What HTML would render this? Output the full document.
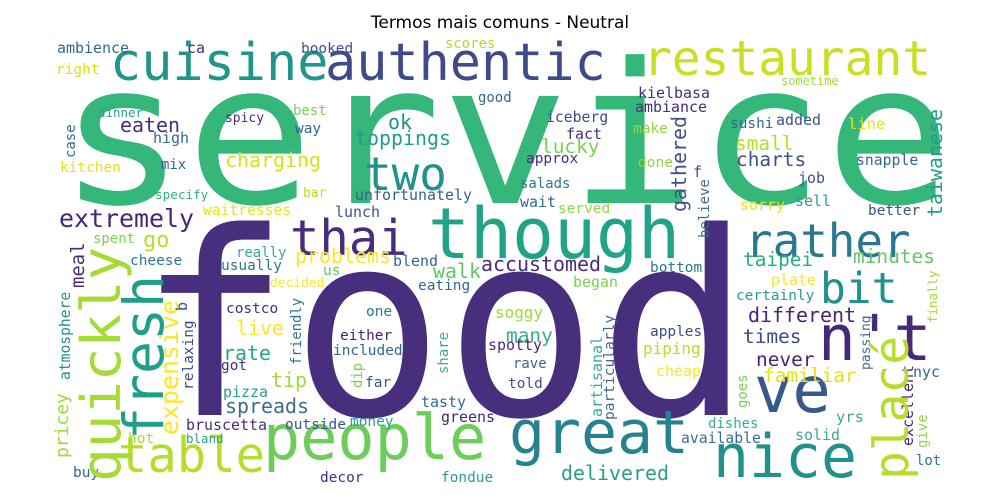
<!DOCTYPE html>
<html><head><meta charset="utf-8"><style>
html,body{margin:0;padding:0;background:#fff;}
svg{display:block;}
text.w{font-family:"DejaVu Sans Mono","Liberation Mono",monospace;}
</style></head><body>
<svg id="cloud" width="1000" height="500" viewBox="0 0 1000 500" xmlns="http://www.w3.org/2000/svg">
<text x="500" y="28" text-anchor="middle" font-family="DejaVu Sans, Liberation Sans, sans-serif" font-size="17" fill="#000">Termos mais comuns - Neutral</text>
<g id="words"></g>
</svg>
<script>
// term, x, baseline y, font size, color, rotated, [width-size]
const terms = [
["service",58,203,196,"#35b779",0,213],
["food",137,415,256,"#472f7d",0],
["though",428,258,70,"#20a386",0],
["thai",290,255,49,"#472d7b",0],
["cuisine",110,80,52,"#1f968b",0],
["authentic",325,80,52,"#3e4a89",0],
["restaurant",643,75,48,"#c8e020",0],
["rather",745,257,46,"#2a788e",0],
["two",364,190,46,"#21918c",0],
["people",263,459,62,"#6ccd5a",0],
["great",509,453,60,"#26828e",0],
["nice",713,477,60,"#21918c",0],
["ve",754,412,64,"#38598c",0],
["n't",818,360,63,"#482878",0],
["bit",820,303,43,"#21918c",0],
["table",118,472,49,"#b5de2b",0],
["extremely",59,227,25,"#482475",0],
["ambience",57,53,15,"#31688e",0],
["ca",187,53,15,"#482878",0],
["booked",301,53,14.5,"#3b528b",0],
["scores",445,48,14,"#addc30",0],
["right",56,74,14.5,"#d8e219",0],
["dinner",98,117,12.5,"#2a9d8f",0],
["best",293,115,14,"#7ad151",0],
["spicy",225,122,13,"#472d7b",0],
["good",478,102,14,"#31688e",0],
["eaten",120,132,20,"#472d7b",0],
["ok",388,129,20,"#21918c",0],
["high",153,143,15,"#31688e",0],
["way",295,133,14.5,"#31688e",0],
["toppings",355,145,20,"#1f9e89",0],
["charging",225,167,20,"#d2e21b",0],
["kitchen",60,172,14.5,"#e5e419",0],
["mix",161,169,14,"#31688e",0],
["specify",155,199,12.7,"#2fb47c",0],
["bar",303,197,13,"#b5de2b",0],
["unfortunately",355,200,15,"#355f8d",0],
["waitresses",203,215,14.7,"#e5e419",0],
["lunch",335,217,15,"#3b528b",0],
["go",143,247,22,"#b5de2b",0],
["spent",93,243,14,"#7ad151",0],
["sometime",781,85,12,"#a0da39",0],
["kielbasa",638,98,15,"#472d7b",0],
["ambiance",635,112,15,"#472d7b",0],
["iceberg",546,122,14.8,"#3e4a89",0],
["make",633,133,14.5,"#8fd744",0],
["fact",566,139,15,"#472d7b",0],
["lucky",541,153,19.5,"#7ad151",0],
["sushi",730,128,14.5,"#31688e",0],
["added",776,125,15,"#3b528b",0],
["line",848,129,15.5,"#e5e419",0],
["small",735,150,19.5,"#b5de2b",0],
["charts",736,166,19.5,"#3b528b",0],
["approx",526,163,14.5,"#472d7b",0],
["done",638,167,14.6,"#8fd744",0],
["snapple",856,165,14.8,"#31688e",0],
["f",693,177,15,"#3b528b",0],
["salads",520,188,14,"#2a788e",0],
["job",798,183,15,"#3b528b",0],
["wait",520,207,15,"#31688e",0],
["served",558,213,14.5,"#8fd744",0],
["sell",795,206,15,"#2a9d8f",0],
["sorry",740,210,15,"#e5e419",0],
["better",868,215,14.5,"#3b528b",0],
["really",236,257,14,"#3aab8e",0],
["cheese",130,265,14.5,"#2a788e",0],
["usually",221,270,14.5,"#2a788e",0],
["problems",295,263,20,"#fde725",0],
["blend",393,266,15,"#31688e",0],
["us",323,275,14.5,"#5ec962",0],
["decided",270,287,13,"#fde725",0],
["walk",433,278,20,"#5ec962",0],
["accustomed",481,271,20,"#472d7b",0],
["eating",418,290,14.5,"#31688e",0],
["costco",226,313,14.5,"#472d7b",0],
["one",366,316,14.5,"#2a788e",0],
["live",236,335,20,"#fde725",0],
["either",340,340,14.5,"#482475",0],
["included",333,355,14.5,"#31688e",0],
["rate",223,360,20,"#22a884",0],
["got",221,370,14.5,"#472d7b",0],
["far",365,387,14.5,"#3b528b",0],
["tip",271,387,20,"#a0da39",0],
["pizza",223,397,15,"#2a9d8f",0],
["tasty",421,407,15,"#31688e",0],
["spreads",225,413,20,"#3e6b8a",0],
["outside",285,429,14.5,"#3b528b",0],
["money",350,426,14.5,"#2a9d8f",0],
["greens",441,422,15,"#482475",0],
["bruscetta",186,430,15,"#472d7b",0],
["bland",186,443,12.5,"#2a9d8f",0],
["hot",128,443,14.5,"#a0da39",0],
["buy",73,477,14.5,"#31688e",0],
["decor",320,482,14.5,"#472d7b",0],
["fondue",441,482,14.5,"#2a9d8f",0],
["bottom",650,272,14.5,"#2a788e",0],
["began",573,287,15,"#7ad151",0],
["taipei",743,266,19.5,"#29af7f",0],
["minutes",853,263,19.5,"#5ec962",0],
["plate",771,285,15,"#fde725",0],
["certainly",736,300,14.5,"#2a9d8f",0],
["different",748,322,20,"#482475",0],
["soggy",495,318,16,"#a0da39",0],
["many",506,342,19.5,"#3aab8e",0],
["spotty",488,350,15,"#482878",0],
["apples",650,336,14.5,"#3e4a89",0],
["times",743,343,19.5,"#3e4a89",0],
["piping",643,354,16,"#b5de2b",0],
["rave",513,368,14,"#31688e",0],
["never",756,366,19.5,"#482475",0],
["cheap",656,376,15,"#fde725",0],
["familiar",763,382,19.5,"#e5e419",0],
["told",508,388,14.5,"#3b528b",0],
["nyc",913,377,15,"#31688e",0],
["yrs",836,422,15.5,"#3aab8e",0],
["dishes",708,428,14,"#3aab8e",0],
["available",681,443,14.8,"#3e6b8a",0],
["solid",795,440,15,"#3aab8e",0],
["lot",916,465,14,"#2a788e",0],
["delivered",561,480,20,"#2a9d8f",0],
// rotated: x = baseline x, y = start (bottom)
["quickly",120,482,54,"#a5db36",1,56],
["fresh",163,440,55,"#1f9e89",1],
["meal",84,288,19,"#472d7b",1],
["case",75,158,14,"#31688e",1],
["atmosphere",70,380,14.7,"#21918c",1],
["pricey",68,458,18,"#a0da39",1],
["expensive",178,435,25,"#fde725",1],
["b",187,311,15,"#3e4a89",1],
["relaxing",193,390,14.5,"#3e4a89",1],
["friendly",301,365,14,"#2a788e",1],
["share",448,374,14,"#3aab8e",1],
["dip",362,388,14,"#7ad151",1],
["gathered",686,212,20,"#3b528b",1],
["taiwanese",942,217,20,"#1f9e89",1],
["believe",709,238,14,"#3e6b8a",1],
["passing",870,370,13,"#3e6b8a",1],
["finally",937,323,12.5,"#a0da39",1],
["artisanal",602,417,15,"#3aab8e",1],
["particularly",614,420,14.6,"#3e6b8a",1],
["goes",747,408,14,"#7ad151",1],
["excellent",913,446,15,"#482475",1],
["placé",908,480,48,"#b5de2b",1],
["give",927,448,14,"#8fd744",1]
];
const g = document.getElementById('words');
const NS = "http://www.w3.org/2000/svg";
terms.forEach(function(t){
  const el = document.createElementNS(NS,'text');
  el.setAttribute('class','w');
  el.setAttribute('font-size', t[3]);
  el.setAttribute('fill', t[4]);
  const ws = t[6] || t[3];
  el.setAttribute('textLength', (t[0].length*0.6*ws).toFixed(1));
  el.setAttribute('lengthAdjust','spacingAndGlyphs');
  if (t[5]) {
    el.setAttribute('x', 0); el.setAttribute('y', 0);
    el.setAttribute('transform','translate('+t[1]+','+t[2]+') rotate(-90)');
  } else {
    el.setAttribute('x', t[1]); el.setAttribute('y', t[2]);
  }
  el.textContent = t[0];
  
  
  g.appendChild(el);
});
</script>
</body></html>
